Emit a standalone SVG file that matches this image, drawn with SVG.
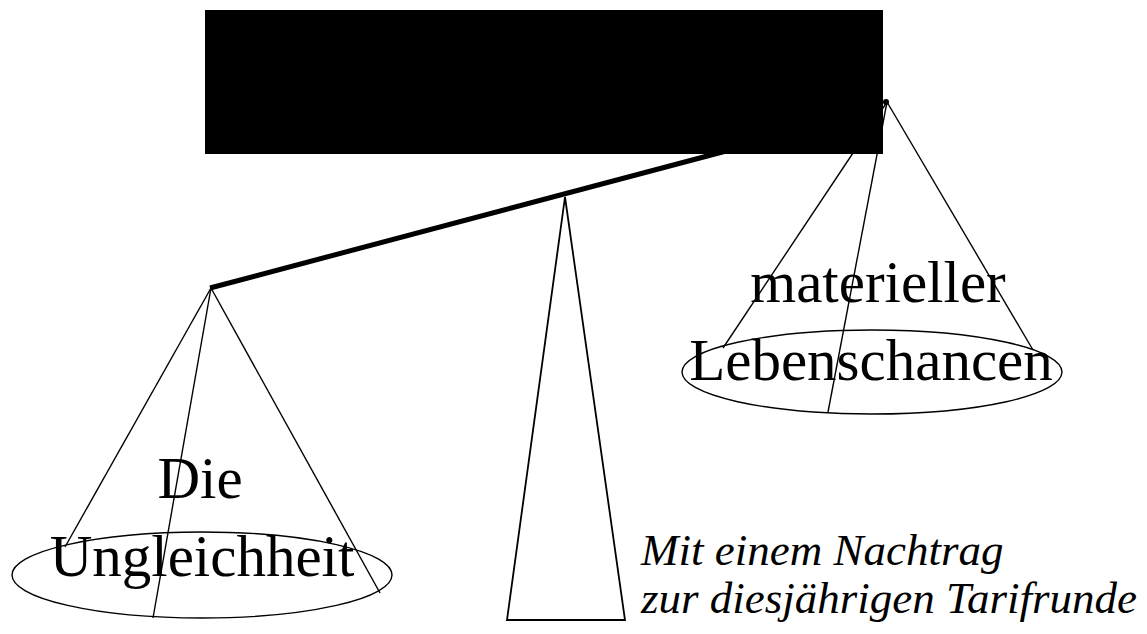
<svg xmlns="http://www.w3.org/2000/svg" width="1147" height="634" viewBox="0 0 1147 634">
<style>
.ln{stroke:#000;stroke-width:1.4;fill:none}
.pan{stroke:#000;stroke-width:1.4;fill:none}
.big{font-family:"Liberation Serif","Times New Roman",serif;font-size:59px;fill:#000;text-anchor:middle}
.it{font-family:"Liberation Serif","Times New Roman",serif;font-size:45px;font-style:italic;fill:#000}
</style>
<rect width="1147" height="634" fill="#fff"/>
<g id="connectors">
<line x1="210" y1="288" x2="745" y2="146" stroke="#000" stroke-width="5"/>
<line class="ln" x1="211" y1="288" x2="65" y2="547"/>
<line class="ln" x1="211" y1="288" x2="153" y2="618"/>
<line class="ln" x1="211" y1="288" x2="380" y2="593"/>
<line class="ln" x1="887" y1="102" x2="723" y2="348"/>
<line class="ln" x1="887" y1="102" x2="828" y2="412"/>
<line class="ln" x1="887" y1="102" x2="1033" y2="350"/>
</g>
<g id="post">
<polygon points="565,197 507,620 625,620" fill="none" stroke="#000" stroke-width="1.8"/>
</g>
<g id="top-block">
<rect x="205" y="10" width="678" height="144" fill="#000"/>
<circle cx="886" cy="102" r="3" fill="#000"/>
</g>
<g id="left-pan">
<ellipse class="pan" cx="202" cy="575" rx="190" ry="43"/>
<text class="big" x="200" y="498">Die</text>
<text class="big" x="202" y="576">Ungleichheit</text>
</g>
<g id="right-pan">
<ellipse class="pan" cx="872" cy="372" rx="190" ry="42"/>
<text class="big" x="878" y="302">materieller</text>
<text class="big" x="871" y="380">Lebenschancen</text>
</g>
<g id="caption">
<text class="it" x="641" y="565">Mit einem Nachtrag</text>
<text class="it" x="641" y="613">zur diesjährigen Tarifrunde</text>
</g>
</svg>
